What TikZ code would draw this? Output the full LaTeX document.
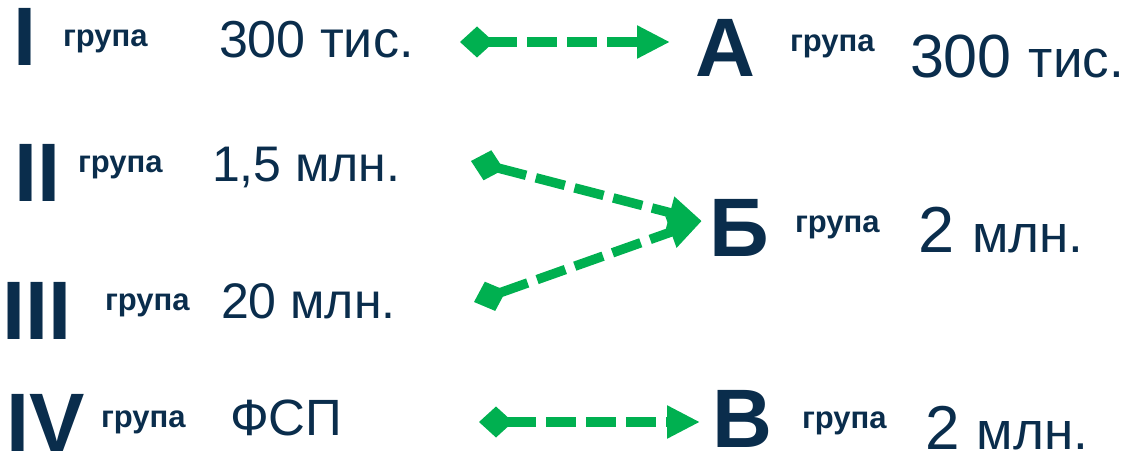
\documentclass[tikz,border=0pt]{standalone}
\usepackage{fontspec}
\setmainfont{Liberation Sans}
\usetikzlibrary{arrows.meta}
\definecolor{navy}{HTML}{0A2D4C}
\definecolor{arrowgreen}{HTML}{00B050}
\begin{document}
\begin{tikzpicture}[x=1pt,y=-1pt,
  txt/.style={inner sep=0pt,outer sep=0pt,anchor=base west,text=navy},
  roman/.style={txt,font=\fontsize{83}{83}\selectfont\bfseries},
  grp/.style={txt,font=\fontsize{31}{31}\selectfont\bfseries},
  val/.style={txt,font=\fontsize{51}{51}\selectfont},
  conn/.style={draw=arrowgreen,line width=9.5pt,dash pattern=on 30pt off 10pt,
    {Diamond[length=34pt,width=31pt]}-{Triangle[length=33pt,width=31pt]}}]
\useasboundingbox (0,0) rectangle (1126,454);
% left column
\node[roman] (r1) at (13,66) {I};
\node[grp] (g1) at (63,47) {група};
\node[val,font=\fontsize{52}{52}\selectfont] (v1) at (219,58) {300 тис.};
\node[roman] (r2) at (14,202) {II};
\node[grp] (g2) at (78,173) {група};
\node[val,font=\fontsize{50}{50}\selectfont] (v2) at (212,182) {1,5 млн.};
\node[roman] (r3) at (2,339) {III};
\node[grp] (g3) at (105,310) {група};
\node[val,font=\fontsize{50}{50}\selectfont] (v3) at (221,318) {20 млн.};
\node[roman] (r4) at (6,451) {IV};
\node[grp] (g4) at (101,427) {група};
\node[val] (v4) at (230,435) {ФСП};
% right column
\node[roman] (A) at (695,77) {А};
\node[grp] (gA) at (790,52) {група};
\node[txt] (vA) at (910,78) {\fontsize{61}{61}\selectfont 300 \fontsize{53}{53}\selectfont тис.};
\node[roman] (B) at (709,256) {Б};
\node[grp] (gB) at (795,233) {група};
\node[txt] (vB) at (918,252) {\fontsize{65}{65}\selectfont 2 \fontsize{53}{53}\selectfont млн.};
\node[roman] (C) at (712,447) {В};
\node[grp] (gC) at (802,428) {група};
\node[txt] (vC) at (925,449) {\fontsize{62}{62}\selectfont 2 \fontsize{53}{53}\selectfont млн.};
% connector ends
\coordinate (s1) at (460,42);
\coordinate (e1) at (670,42);
\coordinate (s2) at (471,161);
\coordinate (eB) at (702,221);
\coordinate (s3) at (474,302);
\coordinate (s4) at (479,422);
\coordinate (e4) at (700,422);
\draw[conn] (s1) -- (e1);
\draw[conn] (s2) -- (eB);
\draw[conn] (s3) -- (eB);
\draw[conn] (s4) -- (e4);
\end{tikzpicture}
\end{document}
